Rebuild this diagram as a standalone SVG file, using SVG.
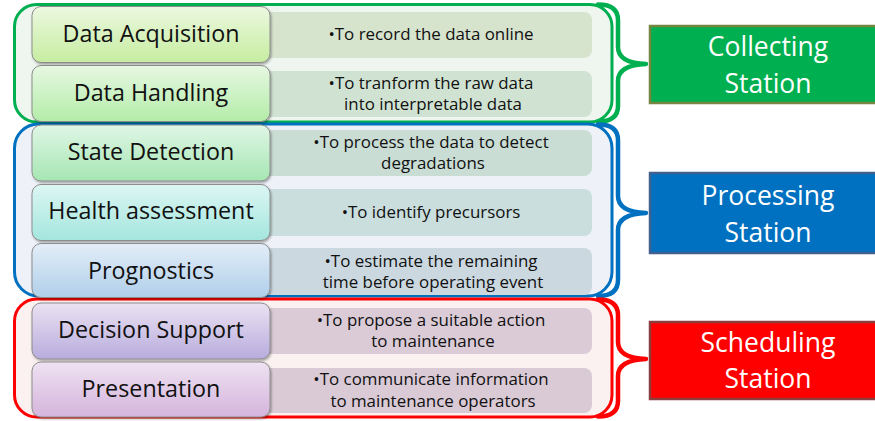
<svg xmlns="http://www.w3.org/2000/svg" width="875" height="421" viewBox="0 0 875 421">
<defs>
<style>
.cont{stroke-width:3}
.brace{fill:none;stroke-width:4.5;stroke-linejoin:round;stroke-linecap:round}
.node{stroke:#8c8c8c;stroke-width:1}
.ntxt{font-family:"Open Sans","DejaVu Sans",sans-serif;font-size:23.3px;fill:#111;text-anchor:middle}
.dtxt{font-family:"Open Sans","DejaVu Sans",sans-serif;font-size:16.9px;fill:#111;text-anchor:middle}
.stxt{font-family:"Open Sans","DejaVu Sans",sans-serif;font-size:26.5px;fill:#fff;text-anchor:middle}
.st{stroke-width:2.5}
</style>
<filter id="sh" x="-5%" y="-10%" width="115%" height="130%">
<feDropShadow dx="1" dy="1.5" stdDeviation="1" flood-color="#000" flood-opacity="0.35"/>
</filter>
<linearGradient id="g1" x1="0" y1="0" x2="0" y2="1"><stop offset="0" stop-color="#ecf8e0"/><stop offset="1" stop-color="#c6eda0"/></linearGradient>
<linearGradient id="g2" x1="0" y1="0" x2="0" y2="1"><stop offset="0" stop-color="#e6f8e2"/><stop offset="1" stop-color="#b4eca8"/></linearGradient>
<linearGradient id="g3" x1="0" y1="0" x2="0" y2="1"><stop offset="0" stop-color="#e0f6e6"/><stop offset="1" stop-color="#a6e6b2"/></linearGradient>
<linearGradient id="g4" x1="0" y1="0" x2="0" y2="1"><stop offset="0" stop-color="#dcf6f3"/><stop offset="1" stop-color="#a4e6de"/></linearGradient>
<linearGradient id="g5" x1="0" y1="0" x2="0" y2="1"><stop offset="0" stop-color="#e3edf8"/><stop offset="1" stop-color="#b0cfea"/></linearGradient>
<linearGradient id="g6" x1="0" y1="0" x2="0" y2="1"><stop offset="0" stop-color="#ebe2f2"/><stop offset="1" stop-color="#b8acdd"/></linearGradient>
<linearGradient id="g7" x1="0" y1="0" x2="0" y2="1"><stop offset="0" stop-color="#efe2f2"/><stop offset="1" stop-color="#d4b4dc"/></linearGradient>
</defs>
<rect width="875" height="421" fill="#fff"/>

<g id="containers">
<rect class="cont" x="14.5" y="4.5" width="597.5" height="117.5" rx="22" fill="#eff5ef" stroke="#00b050"/>
<rect class="cont" x="14.5" y="124" width="597.5" height="172" rx="24" fill="#eef2f8" stroke="#0070c0"/>
<rect class="cont" x="14.5" y="299" width="597.5" height="118" rx="22" fill="#fbf1f1" stroke="#ff0000"/>
</g>

<g id="descriptions">
<g id="d1"><rect x="262" y="12" width="330" height="46" rx="8" fill="#d6e3cd"/>
<text class="dtxt" x="431" y="40">•To record the data online</text></g>
<g id="d2"><rect x="262" y="71" width="330" height="46" rx="8" fill="#d0e3d2"/>
<text class="dtxt" x="431" y="89">•To tranform the raw data</text><text class="dtxt" x="433" y="110">into interpretable data</text></g>
<g id="d3"><rect x="262" y="130" width="330" height="46" rx="8" fill="#c9ddd4"/>
<text class="dtxt" x="431" y="147.5">•To process the data to detect</text><text class="dtxt" x="433" y="168.5">degradations</text></g>
<g id="d4"><rect x="262" y="189" width="330" height="47" rx="8" fill="#c9dedd"/>
<text class="dtxt" x="431" y="218">•To identify precursors</text></g>
<g id="d5"><rect x="262" y="248" width="330" height="47" rx="8" fill="#cbd8e0"/>
<text class="dtxt" x="431" y="267">•To estimate the remaining</text><text class="dtxt" x="433" y="288">time before operating event</text></g>
<g id="d6"><rect x="262" y="308" width="330" height="46" rx="8" fill="#dacbd7"/>
<text class="dtxt" x="431" y="326">•To propose a suitable action</text><text class="dtxt" x="433" y="347">to maintenance</text></g>
<g id="d7"><rect x="262" y="368" width="330" height="45" rx="8" fill="#d9cad6"/>
<text class="dtxt" x="431" y="385">•To communicate information</text><text class="dtxt" x="433" y="407">to maintenance operators</text></g>
</g>

<g id="n1"><rect class="node" filter="url(#sh)" x="32" y="6.5" width="238" height="56" rx="9" fill="url(#g1)"/><text class="ntxt" x="151" y="42">Data Acquisition</text></g>
<g id="n2"><rect class="node" filter="url(#sh)" x="32" y="65.5" width="238" height="56" rx="9" fill="url(#g2)"/><text class="ntxt" x="151" y="101">Data Handling</text></g>
<g id="n3"><rect class="node" filter="url(#sh)" x="32" y="125" width="238" height="56" rx="9" fill="url(#g3)"/><text class="ntxt" x="151" y="160">State Detection</text></g>
<g id="n4"><rect class="node" filter="url(#sh)" x="32" y="184.5" width="238" height="56" rx="9" fill="url(#g4)"/><text class="ntxt" x="151" y="219">Health assessment</text></g>
<g id="n5"><rect class="node" filter="url(#sh)" x="32" y="243.5" width="238" height="54" rx="9" fill="url(#g5)"/><text class="ntxt" x="151" y="279">Prognostics</text></g>
<g id="n6"><rect class="node" filter="url(#sh)" x="32" y="303" width="238" height="56" rx="9" fill="url(#g6)"/><text class="ntxt" x="151" y="338">Decision Support</text></g>
<g id="n7"><rect class="node" filter="url(#sh)" x="32" y="362" width="238" height="55" rx="9" fill="url(#g7)"/><text class="ntxt" x="151" y="397">Presentation</text></g>

<g id="connectors">
<path class="brace" stroke="#00b050" d="M598,4.5 Q618,4.5 618,20 L618,47 Q618,63 646,64 Q618,65 618,81 L618,106 Q618,121.5 598,121.5"/>
<path class="brace" stroke="#0070c0" d="M598,124.5 Q618,124.5 618,140 L618,196 Q618,212 646,213 Q618,214 618,230 L618,280 Q618,296 598,296"/>
<path class="brace" stroke="#ff0000" d="M598,299.5 Q618,299.5 618,315 L618,342 Q618,358 646,359 Q618,360 618,376 L618,401 Q618,416.5 598,416.5"/>
</g>

<g id="collecting"><rect class="st" x="650" y="26" width="240" height="77" fill="#00b050" stroke="#76853f"/>
<text class="stxt" x="768" y="56">Collecting</text><text class="stxt" x="768" y="93">Station</text></g>
<g id="processing"><rect class="st" x="650" y="173" width="240" height="80" fill="#0070c0" stroke="#41608f"/>
<text class="stxt" x="768" y="205">Processing</text><text class="stxt" x="768" y="242">Station</text></g>
<g id="scheduling"><rect class="st" x="650" y="322" width="240" height="77" fill="#ff0000" stroke="#8c3d3d"/>
<text class="stxt" x="768" y="352">Scheduling</text><text class="stxt" x="768" y="388">Station</text></g>
</svg>
